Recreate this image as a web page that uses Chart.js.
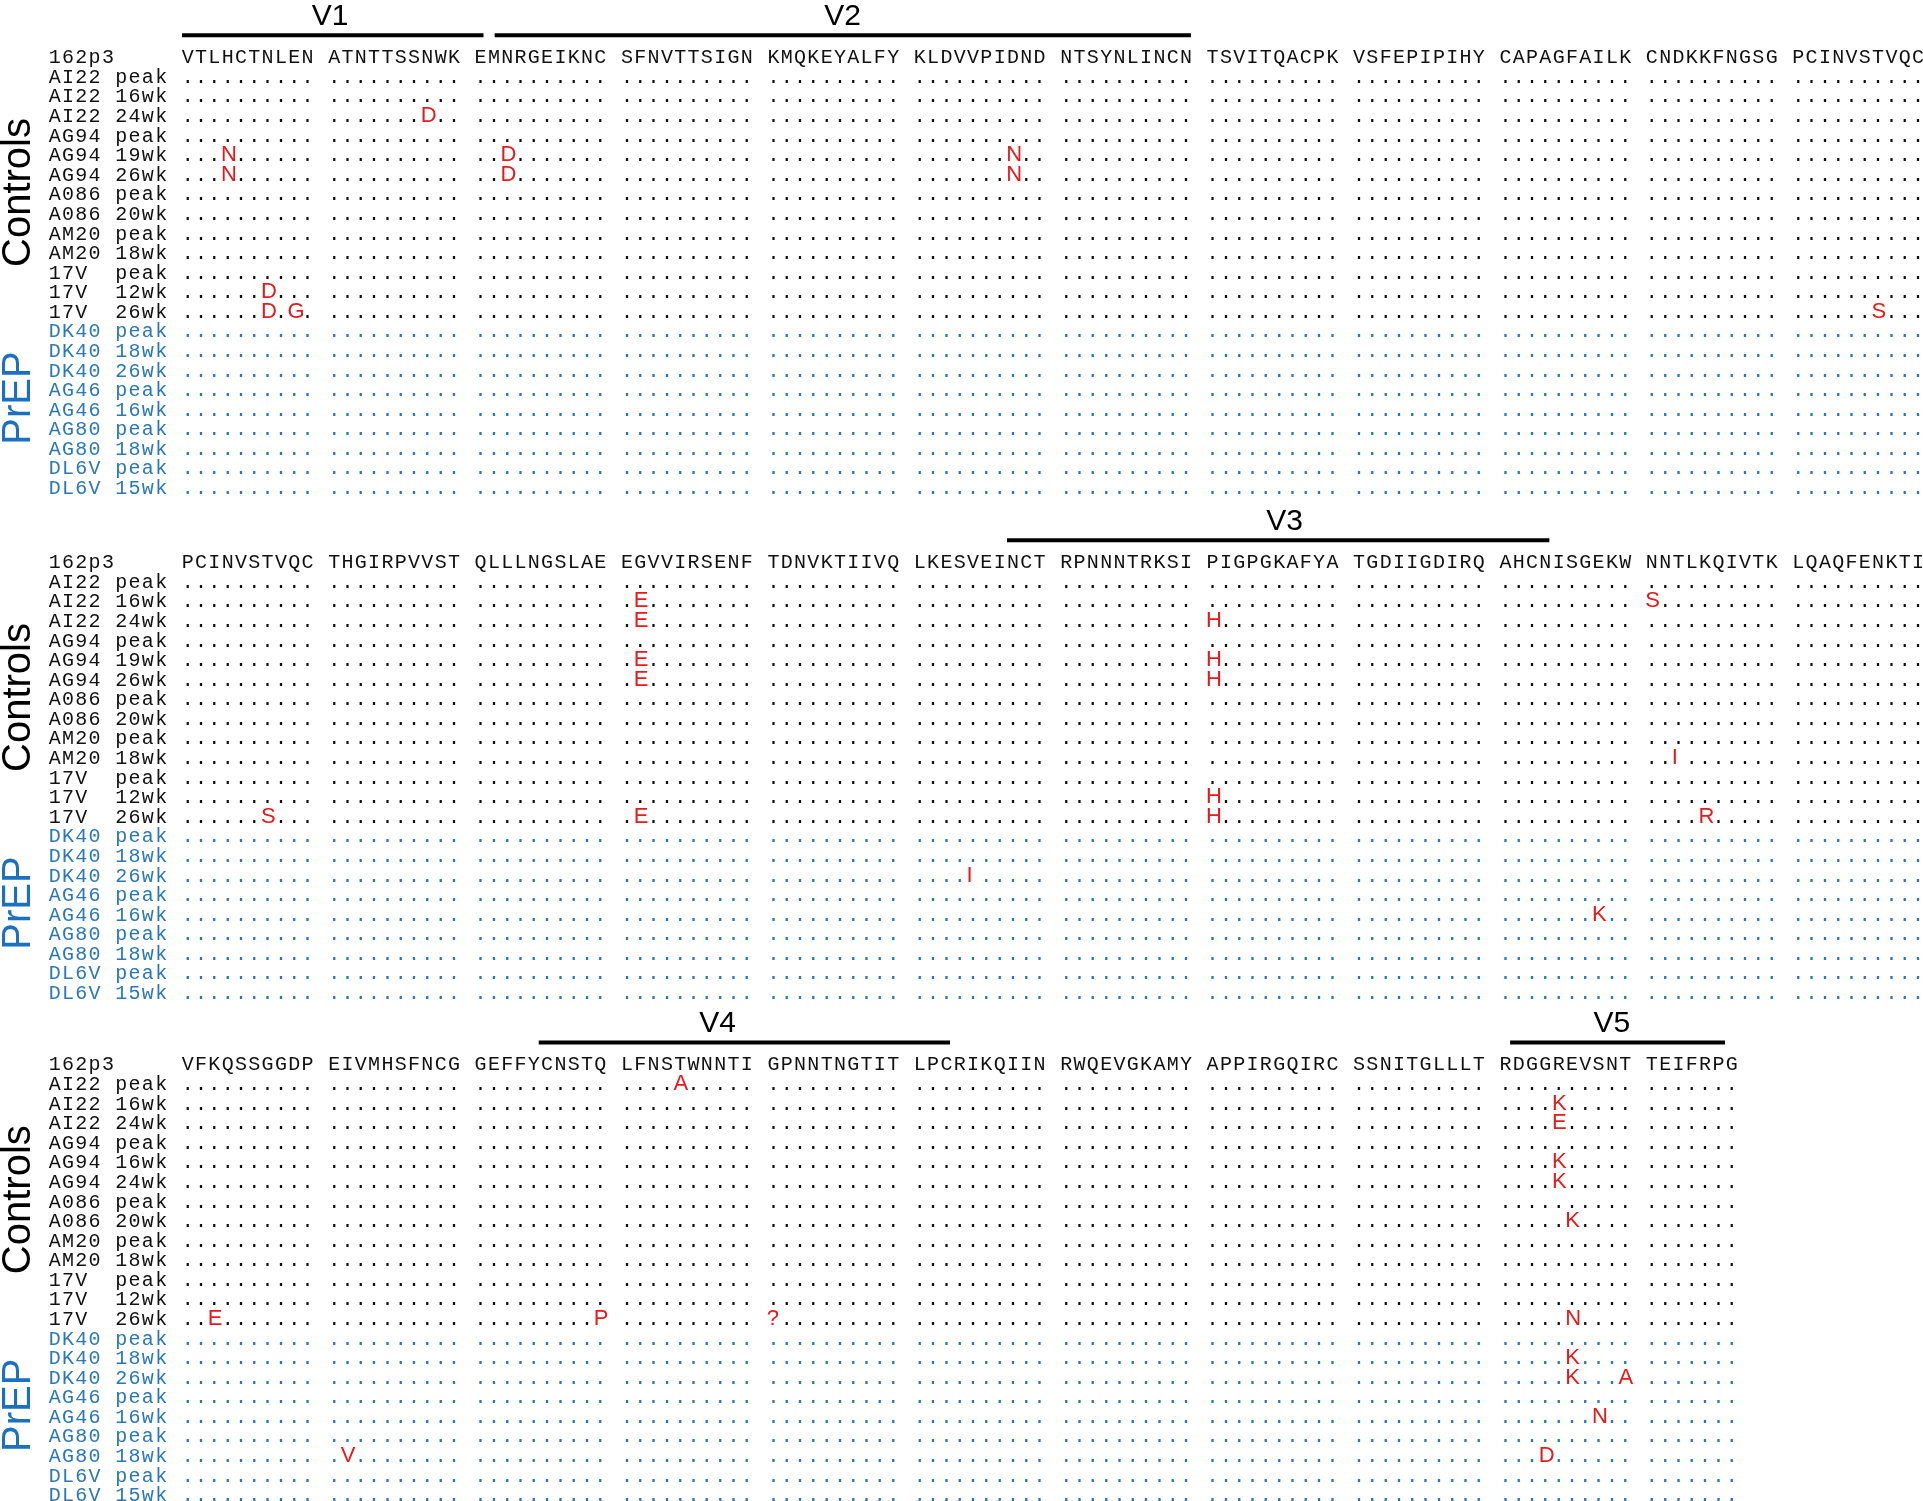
<!DOCTYPE html>
<html>
<head>
<meta charset="utf-8">
<script src="https://cdn.jsdelivr.net/npm/chart.js@4.4.0/dist/chart.umd.min.js"></script>
<style>
    body { margin: 0; background: #fff; }
</style>
</head>
<body>
<canvas id="myChart" width="1923" height="1501"></canvas>
<script>
// sample names (panels 1 and 2), panel 3 differs for AG94
var refName = "162p3";
var rowNames = ["AI22 peak", "AI22 16wk", "AI22 24wk", "AG94 peak", "AG94 19wk", "AG94 26wk",
    "A086 peak", "A086 20wk", "AM20 peak", "AM20 18wk", "17V  peak", "17V  12wk", "17V  26wk",
    "DK40 peak", "DK40 18wk", "DK40 26wk", "AG46 peak", "AG46 16wk", "AG80 peak", "AG80 18wk",
    "DL6V peak", "DL6V 15wk"];
var rowNames3 = ["AI22 peak", "AI22 16wk", "AI22 24wk", "AG94 peak", "AG94 16wk", "AG94 24wk",
    "A086 peak", "A086 20wk", "AM20 peak", "AM20 18wk", "17V  peak", "17V  12wk", "17V  26wk",
    "DK40 peak", "DK40 18wk", "DK40 26wk", "AG46 peak", "AG46 16wk", "AG80 peak", "AG80 18wk",
    "DL6V peak", "DL6V 15wk"];
var controlCount = 13;

// reference sequence, blocks of ten
var seq1 = ["VTLHCTNLEN", "ATNTTSSNWK", "EMNRGEIKNC", "SFNVTTSIGN", "KMQKEYALFY", "KLDVVPIDND",
    "NTSYNLINCN", "TSVITQACPK", "VSFEPIPIHY", "CAPAGFAILK", "CNDKKFNGSG", "PCINVSTVQC"];
var seq2 = ["PCINVSTVQC", "THGIRPVVST", "QLLLNGSLAE", "EGVVIRSENF", "TDNVKTIIVQ", "LKESVEINCT",
    "RPNNNTRKSI", "PIGPGKAFYA", "TGDIIGDIRQ", "AHCNISGEKW", "NNTLKQIVTK", "LQAQFENKTI"];
var seq3 = ["VFKQSSGGDP", "EIVMHSFNCG", "GEFFYCNSTQ", "LFNSTWNNTI", "GPNNTNGTIT", "LPCRIKQIIN",
    "RWQEVGKAMY", "APPIRGQIRC", "SSNITGLLLT", "RDGGREVSNT", "TEIFRPG"];

// mutations: [row (1 = first sample), block, position in block, residue]
var mut1 = [[3, 1, 7, "D"], [5, 0, 3, "N"], [5, 2, 2, "D"], [5, 5, 7, "N"], [6, 0, 3, "N"], [6, 2, 2, "D"],
    [6, 5, 7, "N"], [12, 0, 6, "D"], [13, 0, 6, "D"], [13, 0, 8, "G"], [13, 11, 6, "S"]];
var mut2 = [[2, 3, 1, "E"], [2, 10, 0, "S"], [3, 3, 1, "E"], [3, 7, 0, "H"], [5, 3, 1, "E"], [5, 7, 0, "H"],
    [6, 3, 1, "E"], [6, 7, 0, "H"], [10, 10, 2, "I"], [12, 7, 0, "H"], [13, 0, 6, "S"], [13, 3, 1, "E"],
    [13, 7, 0, "H"], [13, 10, 4, "R"], [16, 5, 4, "I"], [18, 9, 7, "K"]];
var mut3 = [[1, 3, 4, "A"], [2, 9, 4, "K"], [3, 9, 4, "E"], [5, 9, 4, "K"], [6, 9, 4, "K"], [8, 9, 5, "K"],
    [13, 0, 2, "E"], [13, 2, 9, "P"], [13, 4, 0, "?"], [13, 9, 5, "N"], [15, 9, 5, "K"], [16, 9, 5, "K"],
    [16, 9, 9, "A"], [18, 9, 7, "N"], [20, 1, 1, "V"], [20, 9, 3, "D"]];

// variable loops (in alignment columns)
var regionNames = ["V1", "V2", "V3", "V4", "V5"];
var regionPanel = [0, 0, 1, 2, 2];
var regionStart = [10.07, 33.56, 72.05, 36.87, 109.85];
var regionEnd = [32.72, 85.87, 112.8, 67.77, 126.0];
var regionLabelAt = [21.2, 59.7, 92.9, 50.3, 117.5];

var groupNames = ["Controls", "PrEP"];
var groupCenterRow = [6.6, 17.1];

// layout
var panelOffset = [0, 25.79, 51.44];
var BLACK = "#111111", BLUE = "#2a78b8", RED = "#e41a1c", PREP_BLUE = "#1b71c0";
var monoFont = '20px "Liberation Mono", monospace';
var redFont = '22px "Liberation Sans", Arial, sans-serif';

function col(block, pos) {
    return 10 + block * 11 + pos;
}

var refPts = [], blackLabels = [], blueLabels = [], blackDots = [], blueDots = [], redPts = [];

function addPanel(p, names, seq, muts) {
    var off = panelOffset[p];
    var k, b, i, r;
    for (k = 0; k < refName.length; k++) refPts.push({ x: k + 0.5, y: off, t: refName[k] });
    for (b = 0; b < seq.length; b++) {
        for (i = 0; i < seq[b].length; i++) {
            refPts.push({ x: col(b, i) + 0.5, y: off, t: seq[b][i] });
        }
    }
    for (r = 1; r <= names.length; r++) {
        var ctrl = r <= controlCount;
        var name = names[r - 1];
        for (k = 0; k < name.length; k++) {
            if (name[k] == " ") continue;
            (ctrl ? blackLabels : blueLabels).push({ x: k + 0.5, y: off + r, t: name[k] });
        }
        for (b = 0; b < seq.length; b++) {
            for (i = 0; i < seq[b].length; i++) {
                var m = muts.filter(function (mm) { return mm[0] == r && mm[1] == b && mm[2] == i; });
                if (m.length) {
                    redPts.push({ x: col(b, i), y: off + r, t: m[0][3] });
                } else {
                    (ctrl ? blackDots : blueDots).push({ x: col(b, i) + 0.5, y: off + r, t: "." });
                }
            }
        }
    }
}

addPanel(0, rowNames, seq1, mut1);
addPanel(1, rowNames, seq2, mut2);
addPanel(2, rowNames3, seq3, mut3);

var regionLabelPts = [], groupPts = [];
var datasets = [];
for (var v = 0; v < regionNames.length; v++) {
    var yy = panelOffset[regionPanel[v]];
    datasets.push({
        type: 'line',
        data: [{ x: regionStart[v], y: yy - 1.43 }, { x: regionEnd[v], y: yy - 1.43 }],
        borderColor: "#000",
        borderWidth: 4,
        pointRadius: 0,
        fill: false
    });
    regionLabelPts.push({ x: regionLabelAt[v], y: yy - 1.95, t: regionNames[v] });
}
for (var p = 0; p < panelOffset.length; p++) {
    for (var g = 0; g < groupNames.length; g++) {
        groupPts.push({ x: -1.35, y: panelOffset[p] + groupCenterRow[g], t: groupNames[g], c: g == 0 ? "#000" : PREP_BLUE });
    }
}

function textSet(data, font, color, align, rotate) {
    return {
        type: 'scatter',
        data: data,
        pointRadius: 0,
        pointHoverRadius: 0,
        textFont: font,
        textColor: color,
        textAlign: align,
        rotate: rotate || false
    };
}

datasets.push(textSet(refPts, monoFont, BLACK, 'center'));
datasets.push(textSet(blackLabels, monoFont, BLACK, 'center'));
datasets.push(textSet(blueLabels, monoFont, BLUE, 'center'));
datasets.push(textSet(blackDots, monoFont, BLACK, 'center'));
datasets.push(textSet(blueDots, monoFont, BLUE, 'center'));
datasets.push(textSet(redPts, redFont, RED, 'left'));
datasets.push(textSet(regionLabelPts, '30px "Liberation Sans", Arial, sans-serif', "#000", 'center'));
datasets.push(textSet(groupPts, '40px "Liberation Sans", Arial, sans-serif', null, 'center', true));

// draws the text attached to each point, at the point's position on the scales
var cellText = {
    id: 'cellText',
    afterDatasetsDraw: function (chart) {
        var ctx = chart.ctx;
        chart.data.datasets.forEach(function (ds, i) {
            if (!ds.textFont) return;
            var meta = chart.getDatasetMeta(i);
            ctx.save();
            ctx.font = ds.textFont;
            ctx.textAlign = ds.textAlign;
            ctx.textBaseline = 'alphabetic';
            meta.data.forEach(function (pt, j) {
                var d = ds.data[j];
                ctx.fillStyle = d.c || ds.textColor;
                if (ds.rotate) {
                    ctx.save();
                    ctx.translate(pt.x, pt.y);
                    ctx.rotate(-Math.PI / 2);
                    ctx.fillText(d.t, 0, 0);
                    ctx.restore();
                } else {
                    ctx.fillText(d.t, pt.x, pt.y);
                }
            });
            ctx.restore();
        });
    }
};

var ctx = document.getElementById("myChart");
var myChart = new Chart(ctx, {
    type: 'scatter',
    data: { datasets: datasets },
    options: {
        responsive: false,
        animation: false,
        devicePixelRatio: 1,
        layout: { padding: 0 },
        events: [],
        plugins: {
            legend: { display: false },
            title: { display: false },
            tooltip: { enabled: false }
        },
        scales: {
            x: { type: 'linear', display: false, min: -3.606, max: 140.872, bounds: 'data' },
            y: { type: 'linear', display: false, reverse: true, min: -3.233, max: 73.43, bounds: 'data' }
        }
    },
    plugins: [cellText]
});
</script>
</body>
</html>
